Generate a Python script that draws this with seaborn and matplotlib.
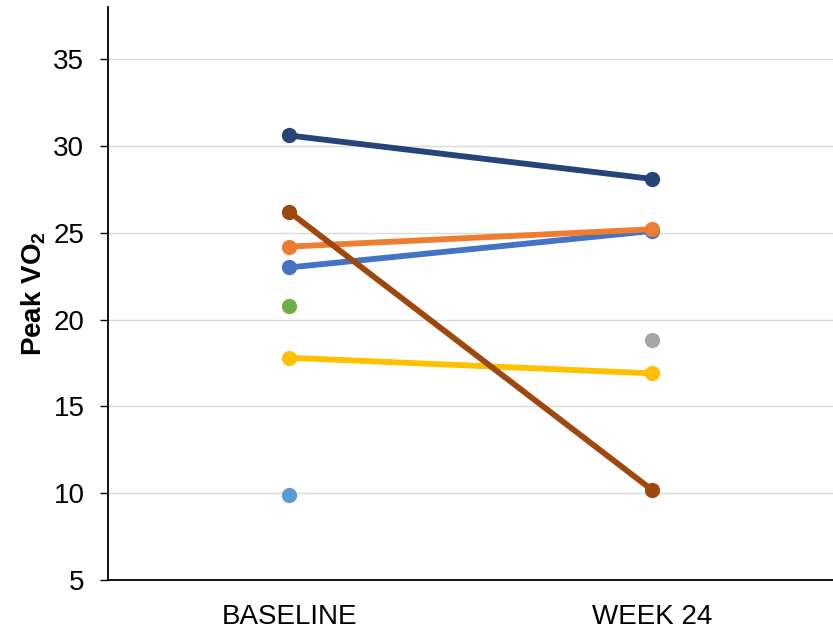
import matplotlib
matplotlib.use("Agg")
import matplotlib.pyplot as plt
import seaborn as sns
import pandas as pd
import numpy as np

timepoints = ["BASELINE", "WEEK 24"]
subjects = ["S1", "S2", "S3", "S4", "S5", "S6", "S7", "S8"]
baseline = [23.0, 24.2, np.nan, 17.8, 9.9, 20.8, 30.6, 26.2]
week24 = [25.1, 25.2, 18.8, 16.9, np.nan, np.nan, 28.1, 10.2]
colors = ["#4472C4", "#ED7D31", "#A5A5A5", "#FFC000", "#5B9BD5", "#70AD47", "#264478", "#9E480E"]
yticks = [5, 10, 15, 20, 25, 30, 35]

rows = []
for s, b, w in zip(subjects, baseline, week24):
    rows.append({"subject": s, "time": timepoints[0], "vo2": b})
    rows.append({"subject": s, "time": timepoints[1], "vo2": w})
df = pd.DataFrame(rows)

sns.set_theme(style="white")
plt.rcParams["font.family"] = ["Liberation Sans", "DejaVu Sans"]
plt.rcParams["mathtext.fontset"] = "custom"
plt.rcParams["mathtext.rm"] = "Liberation Sans"
plt.rcParams["mathtext.bf"] = "Liberation Sans:bold"
plt.rcParams["text.color"] = "black"
plt.rcParams["axes.labelcolor"] = "black"
plt.rcParams["xtick.color"] = "black"
plt.rcParams["ytick.color"] = "black"

fig = plt.figure(figsize=(8.33, 6.34), dpi=100)
ax = fig.add_axes([108 / 833, 1 - 580 / 634, 1 - 108 / 833, (580 - 7) / 634])

ax.set_yticks(yticks)
ax.yaxis.grid(True, color="#D9D9D9", linewidth=1.0, zorder=0)
ax.set_axisbelow(True)

x_pos = {t: i for i, t in enumerate(timepoints)}
df["xpos"] = df["time"].map(x_pos)

for s, c in zip(subjects, colors):
    sub = df[df["subject"] == s].dropna()
    sns.lineplot(data=sub, x="xpos", y="vo2", ax=ax, color=c, linewidth=4.2,
                 marker="o", markersize=11, markeredgewidth=0, legend=False,
                 estimator=None, sort=False)

ax.set_xlim(-0.5, 1.5)
ax.set_ylim(5, 38)
ax.set_xticks(range(len(timepoints)))
ax.set_xticklabels(timepoints, fontsize=20)
ax.tick_params(axis="x", length=0, pad=17, labelcolor="black")
ax.tick_params(axis="y", length=6, width=1, color="black", labelsize=20, pad=11,
               left=True, labelcolor="black")
ax.set_xlabel("")
ax.set_ylabel(r"Peak VO$_{\mathbf{2}}$", fontsize=20, fontweight="bold", labelpad=4,
              color="black")

for side in ["top", "right"]:
    ax.spines[side].set_visible(False)
for side in ["left", "bottom"]:
    ax.spines[side].set_color("black")
    ax.spines[side].set_linewidth(1.3)

fig.savefig("out.png", dpi=100)
